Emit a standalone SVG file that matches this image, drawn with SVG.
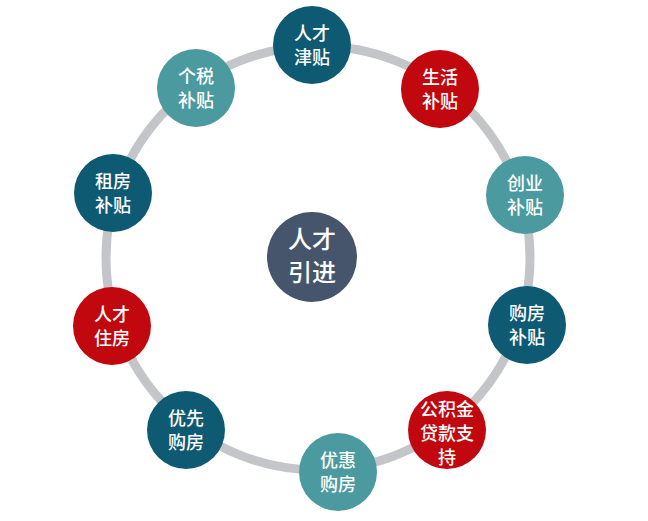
<svg xmlns="http://www.w3.org/2000/svg" width="648" height="521" viewBox="0 0 648 521">
<style>
.n text{font-family:"Noto Sans CJK SC",sans-serif;font-size:18px;font-weight:500;fill:#fff;text-anchor:middle}
.d{fill:#0e5a73}.r{fill:#c0080e}.t{fill:#4a9aa0}
</style>
<rect width="648" height="521" fill="#fff"/>
<g id="connectors"><circle cx="318" cy="258" r="212" fill="none" stroke="#c3c5c9" stroke-width="9"/></g>
<g id="center" class="n"><circle cx="312" cy="257" r="45" fill="#46556b"/><text x="312" y="248" style="font-size:24px">人才</text><text x="312" y="281" style="font-size:24px">引进</text></g>
<g id="n1" class="n"><circle class="d" cx="312" cy="45" r="39"/><text x="312" y="40">人才</text><text x="312" y="64">津贴</text></g>
<g id="n2" class="n"><circle class="r" cx="440" cy="89" r="39"/><text x="440" y="84">生活</text><text x="440" y="108">补贴</text></g>
<g id="n3" class="n"><circle class="t" cx="525" cy="195" r="39"/><text x="525" y="190">创业</text><text x="525" y="214">补贴</text></g>
<g id="n4" class="n"><circle class="d" cx="527" cy="325" r="39"/><text x="527" y="320">购房</text><text x="527" y="344">补贴</text></g>
<g id="n5" class="n"><circle class="r" cx="447" cy="430" r="39"/><text x="447" y="416">公积金</text><text x="447" y="440">贷款支</text><text x="447" y="464">持</text></g>
<g id="n6" class="n"><circle class="t" cx="338" cy="472" r="39"/><text x="338" y="467">优惠</text><text x="338" y="491">购房</text></g>
<g id="n7" class="n"><circle class="d" cx="186" cy="430" r="39"/><text x="186" y="425">优先</text><text x="186" y="449">购房</text></g>
<g id="n8" class="n"><circle class="r" cx="112" cy="326" r="39"/><text x="112" y="321">人才</text><text x="112" y="345">住房</text></g>
<g id="n9" class="n"><circle class="d" cx="113" cy="193" r="39"/><text x="113" y="188">租房</text><text x="113" y="212">补贴</text></g>
<g id="n10" class="n"><circle class="t" cx="196" cy="88" r="39"/><text x="196" y="83">个税</text><text x="196" y="107">补贴</text></g>
</svg>
